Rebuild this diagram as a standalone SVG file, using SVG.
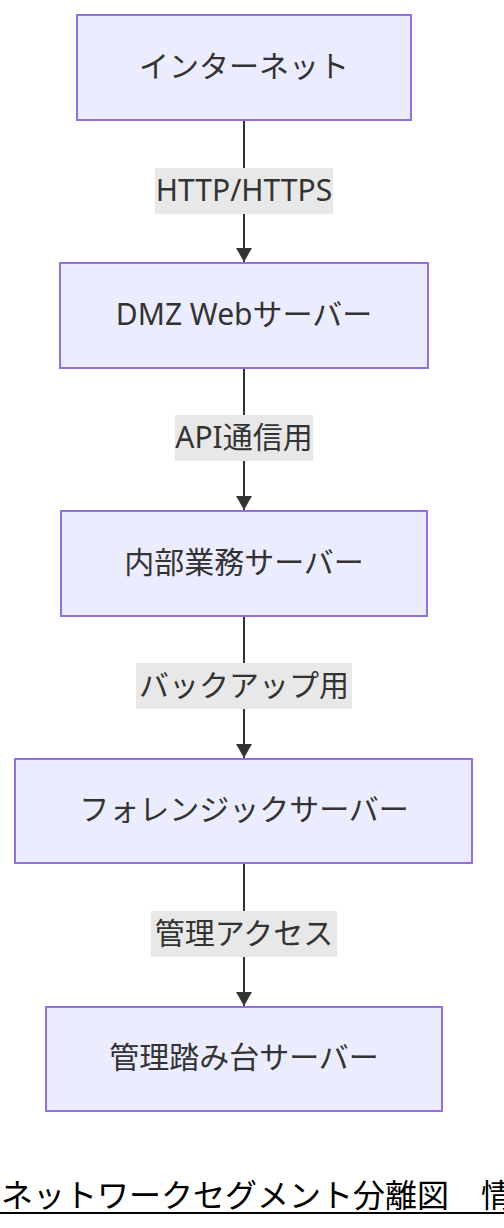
<svg xmlns="http://www.w3.org/2000/svg" width="504" height="1228" viewBox="0 0 504 1228">
<style>
.node rect{fill:#ECECFF;stroke:#9370DB;stroke-width:2}
.node text,.lbl text{font-family:"Noto Sans","Noto Sans CJK JP",sans-serif;font-size:30px;fill:#333;text-anchor:middle}
.lbl rect{fill:#E8E8E8}
.edge{stroke:#333;stroke-width:2;fill:none}
.title{font-family:"Noto Sans CJK JP","Noto Sans",sans-serif;font-size:32px;fill:#000}
</style>
<defs>
<marker id="ah" viewBox="0 0 14 16" refX="14" refY="8" markerWidth="14" markerHeight="16" markerUnits="userSpaceOnUse" orient="auto">
<path d="M0,0 L14,8 L0,16 z" fill="#333"/>
</marker>
</defs>
<rect width="504" height="1228" fill="#fff"/>
<g id="edges">
<line class="edge" x1="244" y1="120" x2="244" y2="262" marker-end="url(#ah)"/>
<line class="edge" x1="244" y1="368" x2="244" y2="510" marker-end="url(#ah)"/>
<line class="edge" x1="244" y1="616" x2="244" y2="758" marker-end="url(#ah)"/>
<line class="edge" x1="244" y1="863" x2="244" y2="1006" marker-end="url(#ah)"/>
</g>
<g id="labels">
<g class="lbl"><rect x="155" y="168" width="178" height="46"/><text x="244" y="201">HTTP/HTTPS</text></g>
<g class="lbl"><rect x="175" y="415" width="138" height="46"/><text x="244" y="448">API通信用</text></g>
<g class="lbl"><rect x="136" y="663" width="216" height="46"/><text x="244" y="696">バックアップ用</text></g>
<g class="lbl"><rect x="151" y="911" width="186" height="46"/><text x="244" y="944">管理アクセス</text></g>
</g>
<g id="n1" class="node"><rect x="77" y="15" width="334" height="105"/><text x="244" y="77">インターネット</text></g>
<g id="n2" class="node"><rect x="60" y="263" width="368" height="105"/><text x="244" y="325">DMZ Webサーバー</text></g>
<g id="n3" class="node"><rect x="61" y="511" width="366" height="105"/><text x="244" y="573">内部業務サーバー</text></g>
<g id="n4" class="node"><rect x="15" y="759" width="457" height="104"/><text x="244" y="820">フォレンジックサーバー</text></g>
<g id="n5" class="node"><rect x="46" y="1007" width="396" height="104"/><text x="244" y="1068">管理踏み台サーバー</text></g>
<g id="caption">
<text class="title" x="1" y="1207">ネットワークセグメント分離図　情</text>
<line x1="0" y1="1213" x2="504" y2="1213" stroke="#000" stroke-width="2"/>
</g>
</svg>
